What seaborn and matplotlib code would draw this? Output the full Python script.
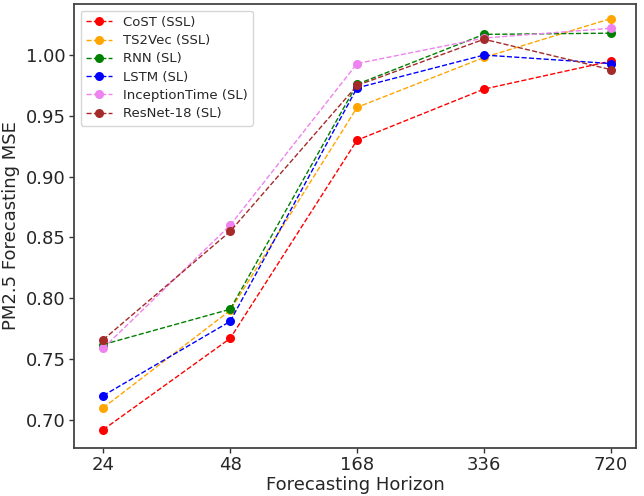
import pandas as pd
import seaborn as sns
import matplotlib.pyplot as plt

horizons = ["24", "48", "168", "336", "720"]
cost = [0.692, 0.767, 0.930, 0.972, 0.995]
ts2vec = [0.710, 0.790, 0.957, 0.998, 1.030]
rnn = [0.762, 0.791, 0.976, 1.017, 1.018]
lstm = [0.720, 0.781, 0.973, 1.000, 0.993]
inception = [0.759, 0.860, 0.993, 1.014, 1.022]
resnet = [0.766, 0.855, 0.975, 1.013, 0.988]

models = ["CoST (SSL)", "TS2Vec (SSL)", "RNN (SL)", "LSTM (SL)",
          "InceptionTime (SL)", "ResNet-18 (SL)"]
colors = ["red", "orange", "green", "blue", "violet", "brown"]
series = [cost, ts2vec, rnn, lstm, inception, resnet]

sns.set_style("white")
plt.rcParams['font.family'] = ['DejaVu Sans']
plt.rcParams['xtick.bottom'] = True
plt.rcParams['ytick.left'] = True

fig, ax = plt.subplots(figsize=(6.44, 4.96), dpi=100)
xpos = list(range(len(horizons)))
for name, col, vals in zip(models, colors, series):
    df = pd.DataFrame({"x": xpos, "y": vals})
    sns.lineplot(data=df, x="x", y="y", ax=ax, color=col, linestyle="--",
                 linewidth=1, marker="o", markersize=6.5, markeredgewidth=0,
                 label=name)

ax.set_xticks(xpos)
ax.set_xticklabels(horizons)
ax.set_xlim(-0.23, 4.2)
ax.set_ylim(0.677, 1.042)
ax.set_yticks([0.70, 0.75, 0.80, 0.85, 0.90, 0.95, 1.00])
ax.tick_params(labelsize=13, length=3.5, width=1, pad=2.5, color="#333333")
ax.set_xlabel("Forecasting Horizon", fontsize=13, labelpad=1)
ax.set_ylabel("PM2.5 Forecasting MSE", fontsize=13, labelpad=4)
for s in ax.spines.values():
    s.set_visible(True)
    s.set_color("#444444")
    s.set_linewidth(1.3)
ax.legend(loc="upper left", fontsize=9.5, borderaxespad=0.5,
          labelspacing=0.4, handlelength=2.0)
plt.subplots_adjust(left=0.115, right=0.988, top=0.992, bottom=0.097)
plt.savefig("out.png", dpi=100)
